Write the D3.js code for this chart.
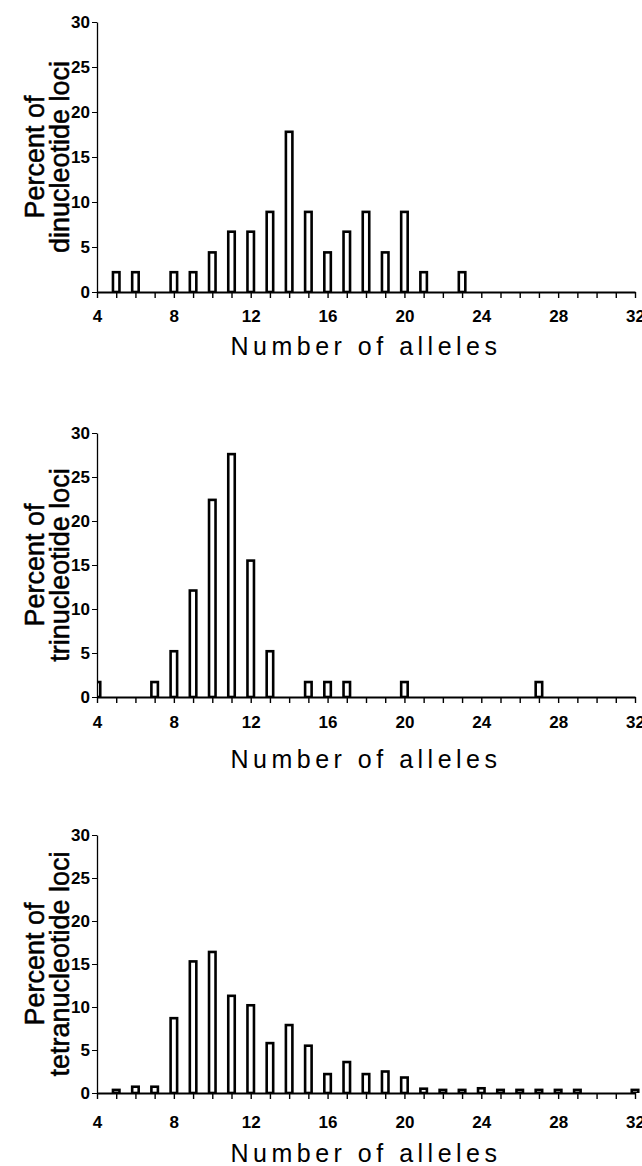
<!DOCTYPE html>
<html>
<head>
<meta charset="utf-8">
<script src="https://cdn.jsdelivr.net/npm/d3@7"></script>
<style>
  body { margin: 0; background: #fff; }
  svg { display: block; }
  .tick text { font-family: "Liberation Sans Narrow", "Arial Narrow", "Liberation Sans", sans-serif; font-weight: bold; fill: #000; }
  .ylab { font-family: "Liberation Sans", Arial, sans-serif; font-size: 27px; stroke: #000; stroke-width: 0.5px; }
  .xlab { font-family: "Liberation Sans", Arial, sans-serif; font-size: 25px; letter-spacing: 4.5px; }
</style>
</head>
<body>
<svg id="chart" width="642" height="1166"></svg>
<script>
// number of alleles per locus (x) and percent of loci (y)
var diAlleles = [5, 6, 8, 9, 10, 11, 12, 13, 14, 15, 16, 17, 18, 19, 20, 21, 23];
var diPercent = [2.2, 2.2, 2.2, 2.2, 4.4, 6.7, 6.7, 8.9, 17.8, 8.9, 4.4, 6.7, 8.9, 4.4, 8.9, 2.2, 2.2];

var triAlleles = [4, 7, 8, 9, 10, 11, 12, 13, 15, 16, 17, 20, 27];
var triPercent = [1.7, 1.7, 5.2, 12.1, 22.4, 27.6, 15.5, 5.2, 1.7, 1.7, 1.7, 1.7, 1.7];

var tetraAlleles = [5, 6, 7, 8, 9, 10, 11, 12, 13, 14, 15, 16, 17, 18, 19, 20, 21, 22, 23, 24, 25, 26, 27, 28, 29, 32];
var tetraPercent = [0.36, 0.73, 0.73, 8.7, 15.3, 16.4, 11.3, 10.2, 5.8, 7.9, 5.5, 2.2, 3.6, 2.2, 2.5, 1.8, 0.5, 0.36, 0.36, 0.55, 0.36, 0.36, 0.36, 0.36, 0.36, 0.36];

var xTicks = d3.range(4, 33);
var yTicks = [0, 5, 10, 15, 20, 25, 30];
var xTitle = "Number of alleles";

var panels = [
  { name: "dinucleotide loci", alleles: diAlleles, percent: diPercent, top: 22, bottom: 292, tickBase: 322, titleBase: 355 },
  { name: "trinucleotide loci", alleles: triAlleles, percent: triPercent, top: 433, bottom: 697, tickBase: 728, titleBase: 768 },
  { name: "tetranucleotide loci", alleles: tetraAlleles, percent: tetraPercent, top: 835, bottom: 1093, tickBase: 1128, titleBase: 1162 }
];

var svg = d3.select("#chart");
var left = 97, right = 635;

var x = d3.scaleLinear().domain([4, 32]).range([left, right]);

panels.forEach(function(p, i) {
  var y = d3.scaleLinear().domain([0, 30]).range([p.bottom, p.top]);
  var g = svg.append("g");

  // clip so bar at 4 is half hidden by the axis
  g.append("clipPath").attr("id", "clip" + i)
    .append("rect")
    .attr("x", left).attr("y", p.top - 5)
    .attr("width", right - left + 10).attr("height", p.bottom - p.top + 5);

  var bars = p.alleles.map(function(a, j) { return { a: a, v: p.percent[j] }; });

  g.append("g").attr("clip-path", "url(#clip" + i + ")")
    .selectAll("rect")
    .data(bars)
    .enter()
    .append("rect")
    .attr("x", d => x(d.a) - 3.25)
    .attr("width", 6.5)
    .attr("y", d => y(d.v))
    .attr("height", d => p.bottom - y(d.v))
    .attr("fill", "#fff")
    .attr("stroke", "#000")
    .attr("stroke-width", 2.6);

  // x axis
  var xa = g.append("g")
    .attr("transform", "translate(0," + p.bottom + ")")
    .call(d3.axisBottom(x)
      .tickValues(xTicks)
      .tickFormat(d => d % 4 === 0 ? d : "")
      .tickSize(6)
      .tickSizeOuter(0)
      .tickPadding(p.tickBase - p.bottom - 6 - 12));
  xa.select(".domain").attr("stroke-width", 1.8);
  xa.selectAll(".tick line").attr("stroke-width", 1.4);
  xa.selectAll(".tick text").style("font-size", "17px");

  // y axis
  var ya = g.append("g")
    .attr("transform", "translate(" + left + ",0)")
    .call(d3.axisLeft(y)
      .tickValues(yTicks)
      .tickSize(5)
      .tickSizeOuter(0)
      .tickPadding(2));
  ya.select(".domain").attr("stroke-width", 1.3);
  ya.selectAll(".tick text").style("font-size", "17px");

  // y label, two lines
  var cy = (p.top + p.bottom) / 2;
  g.append("text").attr("class", "ylab")
    .attr("transform", "translate(44," + cy + ") rotate(-90)")
    .attr("text-anchor", "middle")
    .text("Percent of");
  g.append("text").attr("class", "ylab")
    .attr("transform", "translate(69," + cy + ") rotate(-90)")
    .attr("text-anchor", "middle")
    .text(p.name);

  // x title
  g.append("text").attr("class", "xlab")
    .attr("x", (left + right) / 2)
    .attr("y", p.titleBase)
    .attr("text-anchor", "middle")
    .text(xTitle);
});
</script>
</body>
</html>
